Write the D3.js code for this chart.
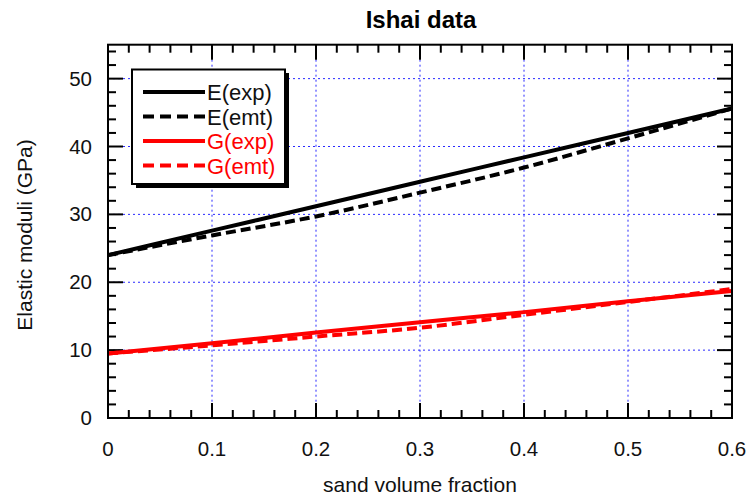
<!DOCTYPE html>
<html>
<head>
<meta charset="utf-8">
<script src="https://cdn.jsdelivr.net/npm/d3@7"></script>
<style>
  body { margin: 0; background: #fff; }
  text { font-family: Arial, "Liberation Sans", sans-serif; }
</style>
</head>
<body>
<svg width="751" height="502"></svg>
<script>
// sand volume fraction
var fractions = [0, 0.1, 0.2, 0.3, 0.4, 0.5, 0.6];
// moduli (GPa)
var eExp = [24.0, 27.6, 31.2, 34.8, 38.4, 42.0, 45.6];
var eEmt = [24.0, 26.9, 29.7, 33.2, 36.9, 41.2, 45.6];
var gExp = [9.5, 11.0, 12.6, 14.1, 15.6, 17.2, 18.7];
var gEmt = [9.5, 10.7, 12.0, 13.3, 15.2, 17.1, 19.0];

var seriesNames = ["E(exp)", "E(emt)", "G(exp)", "G(emt)"];
var xTicks = [0, 0.1, 0.2, 0.3, 0.4, 0.5, 0.6];
var yTicks = [0, 10, 20, 30, 40, 50];

var svg = d3.select('svg');
//plot box (note: "top" is taken by window.top, so prefix these)
var pLeft = 108, pRight = 732, pTop = 44.7, pBottom = 418;

var x = d3.scaleLinear().domain([0, 0.6]).range([pLeft, pRight]);
var y = d3.scaleLinear().domain([0, 55]).range([pBottom, pTop]);

//grid lines, blue dotted
var grid = svg.append('g')
  .attr('stroke', '#2a2aff')
  .attr('stroke-width', 1)
  .attr('stroke-dasharray', '2,3');
grid.selectAll('line.gx').data(xTicks.slice(1, -1)).enter().append('line')
  .attr('x1', function(d){ return x(d); }).attr('x2', function(d){ return x(d); })
  .attr('y1', pTop).attr('y2', pBottom);
grid.selectAll('line.gy').data(yTicks.slice(1)).enter().append('line')
  .attr('y1', function(d){ return y(d); }).attr('y2', function(d){ return y(d); })
  .attr('x1', pLeft).attr('x2', pRight);

//ticks on all four sides, pointing in
var xMinor = d3.range(0, 0.6001, 0.02);
var yMinor = d3.range(0, 55.001, 2);
var ticks = svg.append('g').attr('stroke', '#000').attr('stroke-width', 2);
function isMajorX(d){ return Math.abs(d * 10 - Math.round(d * 10)) < 1e-6; }
function isMajorY(d){ return d % 10 === 0; }
ticks.selectAll('line.xb').data(xMinor).enter().append('line')
  .attr('x1', function(d){ return x(d); }).attr('x2', function(d){ return x(d); })
  .attr('y1', pBottom).attr('y2', function(d){ return pBottom - (isMajorX(d) ? 15 : 8); });
ticks.selectAll('line.xt').data(xMinor).enter().append('line')
  .attr('x1', function(d){ return x(d); }).attr('x2', function(d){ return x(d); })
  .attr('y1', pTop).attr('y2', function(d){ return pTop + (isMajorX(d) ? 15 : 8); });
ticks.selectAll('line.yl').data(yMinor).enter().append('line')
  .attr('y1', function(d){ return y(d); }).attr('y2', function(d){ return y(d); })
  .attr('x1', pLeft).attr('x2', function(d){ return pLeft + (isMajorY(d) ? 15 : 8); });
ticks.selectAll('line.yr').data(yMinor).enter().append('line')
  .attr('y1', function(d){ return y(d); }).attr('y2', function(d){ return y(d); })
  .attr('x1', pRight).attr('x2', function(d){ return pRight - (isMajorY(d) ? 15 : 8); });

//tick labels
svg.selectAll('text.xl').data(xTicks).enter().append('text')
  .attr('x', function(d){ return x(d); }).attr('y', 456)
  .attr('text-anchor', 'middle').attr('font-size', 20.5).attr('fill', '#111')
  .text(function(d){ return d === 0 ? '0' : d3.format('.1f')(d); });
svg.selectAll('text.yl').data(yTicks).enter().append('text')
  .attr('x', 92).attr('y', function(d){ return y(d) + 7; })
  .attr('text-anchor', 'end').attr('font-size', 20.5).attr('fill', '#111')
  .text(function(d){ return d; });

//series lines
var line = d3.line()
  .x(function(d, i){ return x(fractions[i]); })
  .y(function(d){ return y(d); })
  .curve(d3.curveMonotoneX);
var series = [
  { name: seriesNames[0], values: eExp, color: '#000', dash: null },
  { name: seriesNames[1], values: eEmt, color: '#000', dash: '10,5' },
  { name: seriesNames[2], values: gExp, color: '#ff0000', dash: null },
  { name: seriesNames[3], values: gEmt, color: '#ff0000', dash: '10,5' }
];
var clip = svg.append('clipPath').attr('id', 'plotclip');
clip.append('rect').attr('x', pLeft - 3).attr('y', pTop).attr('width', pRight - pLeft + 6).attr('height', pBottom - pTop);
svg.append('g').attr('clip-path', 'url(#plotclip)')
  .selectAll('path').data(series).enter().append('path')
  .attr('d', function(d){ return line(d.values); })
  .attr('fill', 'none')
  .attr('stroke', function(d){ return d.color; })
  .attr('stroke-width', 4)
  .attr('stroke-dasharray', function(d){ return d.dash; });

//frame
svg.append('rect')
  .attr('x', pLeft).attr('y', pTop).attr('width', pRight - pLeft).attr('height', pBottom - pTop)
  .attr('fill', 'none').attr('stroke', '#000').attr('stroke-width', 2);

//legend with drop shadow
var lg = svg.append('g');
lg.append('rect').attr('x', 136).attr('y', 73).attr('width', 153).attr('height', 115).attr('fill', '#000');
lg.append('rect').attr('x', 132).attr('y', 69.5).attr('width', 153).attr('height', 114.5)
  .attr('fill', '#fff').attr('stroke', '#000').attr('stroke-width', 2);
var rows = lg.selectAll('g.row').data(series).enter().append('g')
  .attr('transform', function(d, i){ return 'translate(0,' + (92 + i * 24.5) + ')'; });
rows.append('line')
  .attr('x1', 143).attr('x2', 205).attr('y1', 0).attr('y2', 0)
  .attr('stroke', function(d){ return d.color; })
  .attr('stroke-width', 4)
  .attr('stroke-dasharray', function(d){ return d.dash ? '11,6' : null; });
rows.append('text')
  .attr('x', 207).attr('y', 8)
  .attr('font-size', 22)
  .attr('fill', function(d){ return d.color === '#000' ? '#111' : '#ff0000'; })
  .text(function(d){ return d.name; });

//titles
svg.append('text').attr('x', 421).attr('y', 28)
  .attr('text-anchor', 'middle').attr('font-size', 24).attr('font-weight', 'bold')
  .text('Ishai data');
svg.append('text').attr('x', 420).attr('y', 492)
  .attr('text-anchor', 'middle').attr('font-size', 21).attr('fill', '#111')
  .text('sand volume fraction');
svg.append('text')
  .attr('transform', 'translate(32,235) rotate(-90)')
  .attr('text-anchor', 'middle').attr('font-size', 21).attr('fill', '#111')
  .text('Elastic moduli (GPa)');
</script>
</body>
</html>
